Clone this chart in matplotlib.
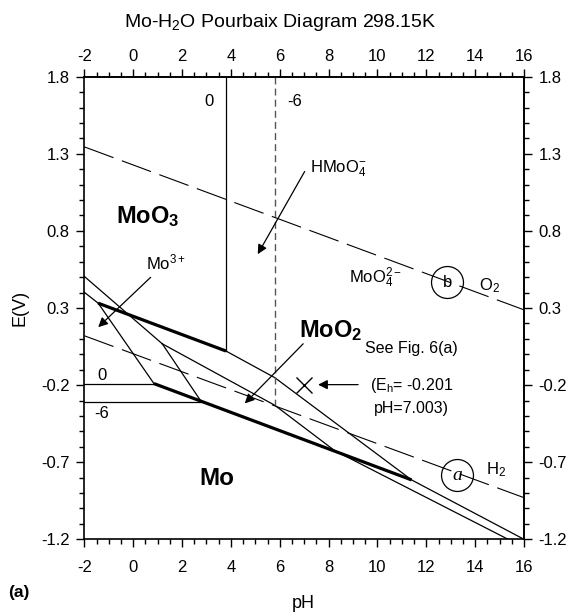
import matplotlib
matplotlib.use("Agg")
import matplotlib.pyplot as plt
from matplotlib.ticker import MultipleLocator, FixedLocator

plt.rcParams["font.family"] = "Liberation Sans"
plt.rcParams["mathtext.fontset"] = "custom"
plt.rcParams["mathtext.rm"] = "Liberation Sans"
plt.rcParams["mathtext.it"] = "Liberation Sans:italic"
plt.rcParams["mathtext.bf"] = "Liberation Sans:bold"
plt.rcParams["axes.unicode_minus"] = False

# --- boundaries (pH, E in V) ---
# solid/solid lines (thick)
moo3_moo2_ph = [-1.43, 3.80]
moo3_moo2_e = [0.331, 0.021]
mo_moo2_ph = [0.85, 11.40]
mo_moo2_e = [-0.190, -0.815]

# ion activity 10^0
c0_mo3_moo3_ph = [-2.0, -1.43]
c0_mo3_moo3_e = [0.402, 0.331]
c0_mo3_moo2_ph = [-1.43, 0.85]
c0_mo3_moo2_e = [0.331, -0.190]
c0_mo3_mo_ph = [-2.0, 0.85]
c0_mo3_mo_e = [-0.190, -0.190]
c0_moo3_hmoo4_ph = [3.80, 3.80]
c0_moo3_hmoo4_e = [1.8, 0.021]
c0_aq_solid_ph = [3.80, 5.80, 11.40, 16.0]
c0_aq_solid_e = [0.021, -0.152, -0.815, -1.2]

# ion activity 10^-6
c6_hmoo4_mo3_ph = [-2.0, 1.19]
c6_hmoo4_mo3_e = [0.505, 0.068]
c6_mo3_moo2_ph = [1.19, 2.80]
c6_mo3_moo2_e = [0.068, -0.310]
c6_mo3_mo_ph = [-2.0, 2.80]
c6_mo3_mo_e = [-0.310, -0.310]
c6_aq_solid_ph = [1.19, 5.80, 8.25, 15.35]
c6_aq_solid_e = [0.068, -0.331, -0.625, -1.2]

# HMoO4- / MoO4 2- boundary
hmoo4_moo4_ph = [5.80, 5.80]
hmoo4_moo4_e = [1.8, -0.331]

# water stability lines
o2_ph = [-2.0, 16.0]
o2_e = [1.345, 0.288]
h2_ph = [-2.0, 16.0]
h2_e = [0.120, -0.930]

# marked condition
point_ph = 7.003
point_e = -0.201

ph_ticks = list(range(-2, 17, 2))
e_ticks = [1.8, 1.3, 0.8, 0.3, -0.2, -0.7, -1.2]
e_labels = ["1.8", "1.3", "0.8", "0.3", "-0.2", "-0.7", "-1.2"]

fig = plt.figure(figsize=(5.81, 6.16), dpi=100)
ax = fig.add_axes([0.1451, 0.1245, 0.7568, 0.751])

thin = dict(color="black", lw=0.9)
thick = dict(color="black", lw=2.3, solid_capstyle="butt")

ax.plot(moo3_moo2_ph, moo3_moo2_e, **thick)
ax.plot(mo_moo2_ph, mo_moo2_e, **thick)

for xs, ys in [(c0_mo3_moo3_ph, c0_mo3_moo3_e), (c0_mo3_moo2_ph, c0_mo3_moo2_e),
               (c0_mo3_mo_ph, c0_mo3_mo_e), (c0_moo3_hmoo4_ph, c0_moo3_hmoo4_e),
               (c0_aq_solid_ph, c0_aq_solid_e),
               (c6_hmoo4_mo3_ph, c6_hmoo4_mo3_e), (c6_mo3_moo2_ph, c6_mo3_moo2_e),
               (c6_mo3_mo_ph, c6_mo3_mo_e), (c6_aq_solid_ph, c6_aq_solid_e)]:
    ax.plot(xs, ys, **thin)

ax.plot(hmoo4_moo4_ph, hmoo4_moo4_e, color="#555555", lw=1.0, ls=(0, (5, 3)))
ax.plot(o2_ph, o2_e, color="black", lw=0.8, ls=(0, (28, 8)))
ax.plot(h2_ph, h2_e, color="black", lw=0.8, ls=(0, (28, 8)))

ax.plot(point_ph, point_e, marker="x", ms=11, mew=1.0, color="black")

# region labels
ax.text(0.60, 0.894, r"$\mathbf{MoO_3}$", fontsize=17, ha="center", va="center")
ax.text(8.08, 0.155, r"$\mathbf{MoO_2}$", fontsize=17, ha="center", va="center")
ax.text(3.43, -0.804, "Mo", fontsize=17.5, fontweight="bold", ha="center", va="center")

ax.text(7.23, 1.20, r"HMoO$_4^{-}$", fontsize=12, ha="left", va="center")
ax.text(1.35, 0.595, r"Mo$^{3+}$", fontsize=12, ha="center", va="center")
ax.text(9.93, 0.495, r"MoO$_4^{2-}$", fontsize=12, ha="center", va="center")
ax.text(14.59, 0.447, r"O$_2$", fontsize=12, ha="center", va="center")
ax.text(14.84, -0.747, r"H$_2$", fontsize=12, ha="center", va="center")

ax.text(3.11, 1.64, "0", fontsize=12, ha="center", va="center")
ax.text(6.62, 1.64, "-6", fontsize=12, ha="center", va="center")
ax.text(-1.29, -0.137, "0", fontsize=12, ha="center", va="center")
ax.text(-1.29, -0.384, "-6", fontsize=12, ha="center", va="center")

ax.text(11.39, 0.0395, "See Fig. 6(a)", fontsize=11.5, ha="center", va="center")
ax.text(11.39, -0.205, r"(E$_\mathrm{h}$= -0.201", fontsize=11.5, ha="center", va="center")
ax.text(11.39, -0.352, "pH=7.003)", fontsize=11.5, ha="center", va="center")

# circled line markers
ax.plot(12.85, 0.470, marker="o", ms=23, mfc="none", mec="black", mew=0.9)
ax.text(12.85, 0.466, "b", fontsize=12, ha="center", va="center")
ax.plot(13.26, -0.782, marker="o", ms=23, mfc="none", mec="black", mew=0.9)
ax.text(13.26, -0.785, "a", fontsize=14, family="Liberation Serif", style="italic",
        ha="center", va="center")

arrow = dict(arrowstyle="-|>", color="black", lw=0.9, mutation_scale=14, shrinkA=0, shrinkB=0)
ax.annotate("", xy=(5.10, 0.649), xytext=(7.02, 1.185), arrowprops=arrow)
ax.annotate("", xy=(-1.43, 0.176), xytext=(0.716, 0.499), arrowprops=arrow)
ax.annotate("", xy=(4.57, -0.319), xytext=(6.96, 0.068), arrowprops=arrow)
ax.annotate("", xy=(7.57, -0.197), xytext=(9.21, -0.197), arrowprops=arrow)

ax.set_xlim(-2, 16)
ax.set_ylim(-1.2, 1.8)

# bottom/left axes
ax.set_xticks(ph_ticks)
ax.set_yticks(e_ticks)
ax.set_yticklabels(e_labels)
ax.xaxis.set_minor_locator(MultipleLocator(0.5))
ax.yaxis.set_minor_locator(MultipleLocator(0.1))
ax.tick_params(which="both", direction="out", labelsize=12, width=1.0)
ax.tick_params(which="major", length=6)
ax.tick_params(which="minor", length=3.5)
ax.tick_params(axis="x", which="major", pad=9)
ax.tick_params(axis="y", which="major", pad=4.5)

# top/right axes with their own padding
top = ax.secondary_xaxis("top")
top.set_xticks(ph_ticks)
top.xaxis.set_minor_locator(MultipleLocator(0.5))
right = ax.secondary_yaxis("right")
right.set_yticks(e_ticks)
right.set_yticklabels(e_labels)
right.yaxis.set_minor_locator(MultipleLocator(0.1))
for sec in (top, right):
    sec.tick_params(which="both", direction="out", labelsize=12, width=1.0)
    sec.tick_params(which="major", length=6)
    sec.tick_params(which="minor", length=3.5)
top.tick_params(which="major", pad=3)
right.tick_params(which="major", pad=4.5)

for sp in ax.spines.values():
    sp.set_linewidth(1.2)
top.spines["top"].set_linewidth(1.2)
right.spines["right"].set_linewidth(1.2)

fig.text(20 / 581, 1 - 308 / 616, "E(V)", rotation=90, fontsize=13, ha="center", va="center")
fig.text(303 / 581, 1 - 604 / 616, "pH", fontsize=13, ha="center", va="center")
fig.text(280 / 581, 1 - 27.3 / 616, r"Mo-H$_2$O Pourbaix Diagram 298.15K", fontsize=14,
         ha="center", va="baseline")
fig.text(8 / 581, 1 - 593 / 616, "(a)", fontsize=12.5, fontweight="bold", ha="left", va="center")

fig.savefig("out.png", dpi=100)
